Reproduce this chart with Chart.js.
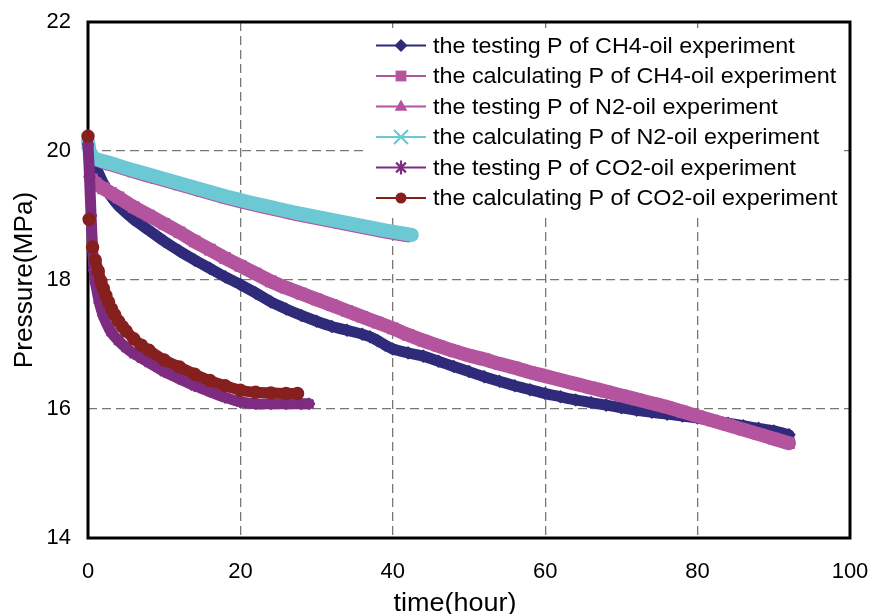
<!DOCTYPE html>
<html lang="en">
<head>
<meta charset="UTF-8">
<title>Pressure decay of gas-oil experiments</title>
<script src="https://cdn.jsdelivr.net/npm/chart.js@4.4.1/dist/chart.umd.min.js"></script>
<style>
    html, body { margin: 0; padding: 0; background: #fff; }
    canvas { display: block; }
</style>
</head>
<body>
<canvas id="pressureChart" width="871" height="614"></canvas>

<script>
    // time (hour) / pressure (MPa) for every run
    const ch4TestTime = [0, 0.5, 1, 2, 3, 4, 5, 6, 8, 10, 12, 14, 16, 18, 20, 22, 24, 26, 28, 30, 32, 34, 36, 37, 38, 39, 40, 42, 44, 46, 48, 50, 52, 54, 56, 58, 60, 62, 64, 66, 68, 70, 72, 74, 76, 78, 80, 82, 84, 86, 88, 90, 92];
    const ch4TestP = [20.05, 19.9, 19.76, 19.5, 19.3, 19.15, 19.04, 18.94, 18.77, 18.6, 18.45, 18.31, 18.18, 18.05, 17.93, 17.8, 17.66, 17.55, 17.45, 17.36, 17.28, 17.22, 17.16, 17.12, 17.06, 16.99, 16.93, 16.87, 16.82, 16.74, 16.66, 16.58, 16.5, 16.43, 16.36, 16.3, 16.24, 16.19, 16.14, 16.1, 16.06, 16.02, 15.98, 15.95, 15.92, 15.89, 15.86, 15.82, 15.78, 15.74, 15.7, 15.66, 15.6];

    const ch4CalcTime = [0.5, 1, 2, 3, 4, 6, 8, 10, 12, 14, 16, 18, 20, 22, 24, 26, 28, 30, 32, 34, 36, 38, 40, 42, 44, 46, 48, 50, 52, 54, 56, 58, 60, 62, 64, 66, 68, 70, 72, 74, 76, 78, 80, 82, 84, 86, 88, 90, 92];
    const ch4CalcP = [19.56, 19.5, 19.42, 19.35, 19.28, 19.13, 19.0, 18.87, 18.74, 18.6, 18.47, 18.34, 18.22, 18.1, 17.98, 17.88, 17.79, 17.7, 17.61, 17.52, 17.43, 17.34, 17.25, 17.15, 17.06, 16.98, 16.9, 16.83, 16.77, 16.7, 16.64, 16.57, 16.51, 16.45, 16.39, 16.33, 16.27, 16.21, 16.15, 16.09, 16.03, 15.96, 15.89, 15.82, 15.75, 15.68, 15.61, 15.54, 15.47];

    const n2TestTime = [0, 0.3, 1, 3, 6, 9, 12, 15, 18, 21, 24, 27, 30, 33, 36, 39, 42];
    const n2TestP = [20.1, 19.93, 19.84, 19.76, 19.65, 19.55, 19.45, 19.35, 19.25, 19.16, 19.08, 19.0, 18.93, 18.86, 18.79, 18.72, 18.66];

    const n2CalcTime = [0, 0.3, 1, 3, 6, 9, 12, 15, 18, 21, 24, 27, 30, 33, 36, 39, 42.5];
    const n2CalcP = [20.15, 19.97, 19.88, 19.81, 19.7, 19.6, 19.5, 19.4, 19.3, 19.21, 19.13, 19.05, 18.98, 18.91, 18.84, 18.77, 18.7];

    const co2TestTime = [0, 0.2, 0.4, 0.6, 0.8, 1, 1.5, 2, 3, 4, 5, 6, 7, 8, 10, 12, 14, 16, 18, 20, 22, 24, 26, 28, 29];
    const co2TestP = [20.1, 19.6, 19.0, 18.5, 18.15, 17.95, 17.65, 17.45, 17.2, 17.06, 16.95, 16.86, 16.79, 16.72, 16.58, 16.47, 16.36, 16.27, 16.18, 16.11, 16.08, 16.08, 16.08, 16.08, 16.08];

    const co2CalcTime = [0, 0.15, 0.6, 0.95, 1.35, 1.7, 2.0, 2.35, 2.7, 3.1, 3.5, 4, 4.5, 5, 6, 7, 8, 10, 12, 14, 16, 18, 20, 22, 24, 26, 27.5];
    const co2CalcP = [20.23, 18.94, 18.51, 18.31, 18.14, 17.98, 17.87, 17.76, 17.66, 17.55, 17.46, 17.36, 17.28, 17.21, 17.09, 16.99, 16.91, 16.76, 16.65, 16.54, 16.44, 16.36, 16.29, 16.26, 16.25, 16.24, 16.24];

    const seriesNames = [
        'the testing P of CH4-oil experiment',
        'the calculating P of CH4-oil experiment',
        'the testing P of N2-oil experiment',
        'the calculating P of N2-oil experiment',
        'the testing P of CO2-oil experiment',
        'the calculating P of CO2-oil experiment'
    ];

    const xTickValues = [0, 20, 40, 60, 80, 100];
    const yTickValues = [14, 16, 18, 20, 22];
    const xTitle = 'time(hour)';
    const yTitle = 'Pressure(MPa)';

    const FONT = '"Liberation Sans", Arial, Helvetica, sans-serif';

    // colour, marker, band width, marker radius
    const styles = [
        { color: '#2F2B7A', marker: 'rectRot',  width: 11, radius: 5,   legendR: 6.5 },
        { color: '#B5549E', marker: 'rect',     width: 14, radius: 6.5, legendR: 7.5 },
        { color: '#B5549E', marker: 'triangle', width: 10, radius: 5,   legendR: 7 },
        { color: '#6CC9D4', marker: 'crossRot', width: 14, radius: 6.5, legendR: 7 },
        { color: '#7E2B82', marker: 'star',     width: 11, radius: 6,   legendR: 7 },
        { color: '#85201F', marker: 'circle',   width: 11, radius: 5.5, legendR: 5.5 }
    ];

    function toPoints(times, values) {
        return times.map((t, i) => ({ x: t, y: values[i] }));
    }

    const seriesData = [
        toPoints(ch4TestTime, ch4TestP),
        toPoints(ch4CalcTime, ch4CalcP),
        toPoints(n2TestTime, n2TestP),
        toPoints(n2CalcTime, n2CalcP),
        toPoints(co2TestTime, co2TestP),
        toPoints(co2CalcTime, co2CalcP)
    ];

    function drawMarker(ctx, style, x, y, r) {
        ctx.beginPath();
        switch (style) {
            case 'rectRot':
                ctx.moveTo(x, y - r); ctx.lineTo(x + r, y); ctx.lineTo(x, y + r); ctx.lineTo(x - r, y);
                ctx.closePath(); ctx.fill();
                break;
            case 'rect':
                ctx.rect(x - r * 0.72, y - r * 0.72, r * 1.44, r * 1.44); ctx.fill();
                break;
            case 'triangle':
                ctx.moveTo(x, y - r); ctx.lineTo(x + r * 0.9, y + r * 0.6); ctx.lineTo(x - r * 0.9, y + r * 0.6);
                ctx.closePath(); ctx.fill();
                break;
            case 'crossRot':
                ctx.moveTo(x - r, y - r); ctx.lineTo(x + r, y + r);
                ctx.moveTo(x + r, y - r); ctx.lineTo(x - r, y + r);
                ctx.stroke();
                break;
            case 'star':
                ctx.moveTo(x - r * 0.7, y - r * 0.7); ctx.lineTo(x + r * 0.7, y + r * 0.7);
                ctx.moveTo(x + r * 0.7, y - r * 0.7); ctx.lineTo(x - r * 0.7, y + r * 0.7);
                ctx.moveTo(x, y - r); ctx.lineTo(x, y + r);
                ctx.stroke();
                break;
            default:
                ctx.arc(x, y, r, 0, Math.PI * 2); ctx.fill();
        }
    }

    // slightly wide text, like the rest of the figure
    function wideText(ctx, text, x, y, sx) {
        ctx.save();
        ctx.translate(x, y);
        ctx.scale(sx, 1);
        ctx.fillText(text, 0, 0);
        ctx.restore();
    }

    // black box round the plot (under the data) and the two axis titles
    const framePlugin = {
        id: 'frame',
        beforeDatasetsDraw(chart) {
            const { ctx, chartArea: a } = chart;
            ctx.save();
            ctx.strokeStyle = '#000';
            ctx.lineWidth = 3;
            ctx.strokeRect(a.left, a.top, a.right - a.left, a.bottom - a.top);

            ctx.fillStyle = '#000';
            ctx.font = '25px ' + FONT;
            ctx.textAlign = 'center';
            ctx.textBaseline = 'alphabetic';
            wideText(ctx, xTitle, 455, 611, 1.08);

            ctx.save();
            ctx.translate(32, (a.top + a.bottom) / 2);
            ctx.rotate(-Math.PI / 2);
            wideText(ctx, yTitle, 0, 0, 1.05);
            ctx.restore();
            ctx.restore();
        }
    };

    // legend: white box, short line with marker, label
    const legendPlugin = {
        id: 'sideLegend',
        afterDatasetsDraw(chart) {
            const ctx = chart.ctx;
            ctx.save();
            ctx.fillStyle = '#fff';
            ctx.fillRect(367, 28, 477, 190);
            ctx.font = '22px ' + FONT;
            ctx.textBaseline = 'middle';
            seriesNames.forEach((name, i) => {
                const s = styles[i];
                const y = 45.5 + i * 30.5;
                ctx.strokeStyle = s.color;
                ctx.fillStyle = s.color;
                ctx.lineWidth = 2;
                ctx.beginPath();
                ctx.moveTo(376, y);
                ctx.lineTo(426, y);
                ctx.stroke();
                ctx.lineWidth = 2.2;
                drawMarker(ctx, s.marker, 401, y, s.legendR);
                ctx.fillStyle = '#000';
                wideText(ctx, name, 433, y + 1, 1.06);
            });
            ctx.restore();
        }
    };

    const datasets = seriesData.map((pts, i) => {
        const s = styles[i];
        const ds = {
            label: seriesNames[i],
            data: pts,
            borderColor: s.color,
            backgroundColor: s.color,
            borderWidth: s.width,
            borderCapStyle: 'round',
            borderJoinStyle: 'round',
            pointStyle: s.marker,
            pointRadius: s.radius,
            pointBorderWidth: 2.5,
            pointBackgroundColor: s.color,
            pointBorderColor: s.color,
            tension: 0.2,
            clip: 10,
            order: 5 - i
        };
        if (i === 5) {
            // the first few calculated points are far apart: show them as separate dots
            ds.segment = {
                borderColor: c => Math.abs(c.p1.y - c.p0.y) > 12 ? 'rgba(0,0,0,0)' : undefined
            };
        }
        return ds;
    });

    const gridStyle = { color: '#777', lineWidth: 1.3, drawTicks: false };

    new Chart(document.getElementById('pressureChart'), {
        type: 'line',
        data: { datasets: datasets },
        plugins: [framePlugin, legendPlugin],
        options: {
            responsive: false,
            animation: false,
            devicePixelRatio: 1,
            layout: { padding: { top: 22, right: 21, left: 0, bottom: 0 } },
            plugins: {
                legend: { display: false },
                tooltip: { enabled: false }
            },
            scales: {
                x: {
                    type: 'linear',
                    min: 0,
                    max: 100,
                    afterBuildTicks: s => { s.ticks = xTickValues.map(v => ({ value: v })); },
                    afterFit: s => { s.height = 76; s.paddingLeft = 0; s.paddingRight = 0; },
                    grid: gridStyle,
                    border: { display: false, dash: [9, 5] },
                    ticks: { color: '#000', padding: 21, font: { family: FONT, size: 22 }, maxRotation: 0 }
                },
                y: {
                    min: 14,
                    max: 22,
                    afterBuildTicks: s => { s.ticks = yTickValues.map(v => ({ value: v })); },
                    afterFit: s => { s.width = 88; s.paddingTop = 0; s.paddingBottom = 0; },
                    grid: gridStyle,
                    border: { display: false, dash: [9, 5] },
                    ticks: { color: '#000', padding: 17, font: { family: FONT, size: 22 } }
                }
            }
        }
    });
</script>
</body>
</html>
